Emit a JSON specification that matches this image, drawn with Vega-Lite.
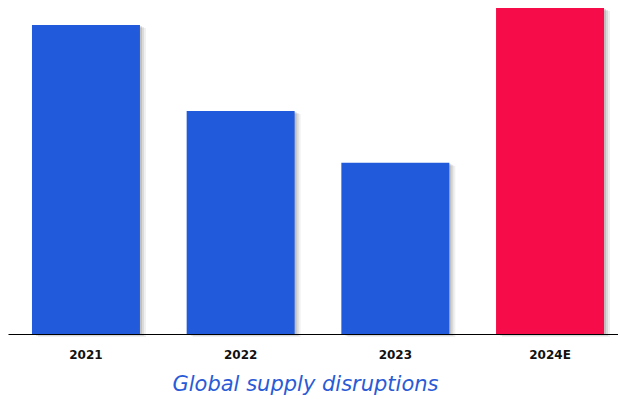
{
  "$schema": "https://vega.github.io/schema/vega-lite/v6.json",
  "width": 620,
  "height": 326,
  "autosize": {"type": "none"},
  "padding": {"left": 8, "top": 8, "right": 0, "bottom": 68},
  "background": "white",
  "config": {"view": {"stroke": null}},
  "data": {
    "values": [
      {"year": "2021", "value": 94.8, "kind": "actual"},
      {"year": "2022", "value": 68.4, "kind": "actual"},
      {"year": "2023", "value": 52.5, "kind": "actual"},
      {"year": "2024E", "value": 100, "kind": "estimate"}
    ]
  },
  "encoding": {
    "x": {
      "field": "year",
      "type": "nominal",
      "sort": null,
      "scale": {"paddingInner": 0.302, "paddingOuter": 0.155},
      "axis": {
        "title": "Global supply disruptions",
        "titleFont": "DejaVu Sans",
        "titleFontStyle": "italic",
        "titleFontWeight": "normal",
        "titleFontSize": 21,
        "titleColor": "#2a5bd6",
        "titlePadding": 13,
        "titleX": 297,
        "labelAngle": 0,
        "labelFont": "DejaVu Sans",
        "labelFontWeight": "bold",
        "labelFontSize": 12,
        "labelColor": "#111111",
        "labelPadding": 15,
        "ticks": false,
        "domainColor": "#000000",
        "domainWidth": 1.2
      }
    },
    "y": {
      "field": "value",
      "type": "quantitative",
      "scale": {"domain": [0, 100], "nice": false},
      "axis": null
    }
  },
  "layer": [
    {"mark": {"type": "bar", "color": "#000000", "opacity": 0.06, "xOffset": 6, "yOffset": 3}},
    {"mark": {"type": "bar", "color": "#000000", "opacity": 0.09, "xOffset": 4, "yOffset": 2}},
    {"mark": {"type": "bar", "color": "#000000", "opacity": 0.12, "xOffset": 2, "yOffset": 1}},
    {
      "mark": {"type": "bar"},
      "encoding": {
        "color": {
          "field": "kind",
          "type": "nominal",
          "scale": {"domain": ["actual", "estimate"], "range": ["#215bdc", "#f50c48"]},
          "legend": null
        }
      }
    }
  ]
}
